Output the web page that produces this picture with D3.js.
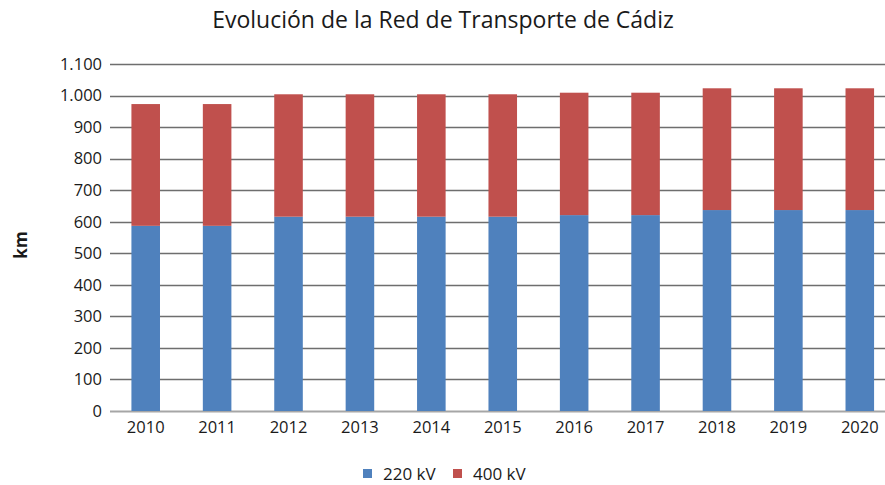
<!DOCTYPE html>
<html>
<head>
<meta charset="utf-8">
<script src="https://cdn.jsdelivr.net/npm/d3@7"></script>
<style>
  body { margin: 0; background: #fff; }
  text { font-family: "Open Sans", "Liberation Sans", sans-serif; fill: #1a1a1a; }
</style>
</head>
<body>
<div id="chart"></div>
<script>
var years = ["2010", "2011", "2012", "2013", "2014", "2015", "2016", "2017", "2018", "2019", "2020"];
var kv220 = [587, 587, 616, 616, 616, 616, 621, 621, 637, 637, 637];
var kv400 = [386, 386, 388, 388, 388, 388, 388, 388, 386, 386, 386];
var seriesNames = ["220 kV", "400 kV"];
var seriesColors = ["#4F81BD", "#C0504D"];
var yTicks = [0, 100, 200, 300, 400, 500, 600, 700, 800, 900, 1000, 1100];

var width = 885, height = 485;

var svg = d3.select("#chart")
            .append("svg")
            .attr("width", width)
            .attr("height", height)

var rows = years.map(function(y, i) {
    return { year: y, "220 kV": kv220[i], "400 kV": kv400[i] };
});

var stacked = d3.stack().keys(seriesNames)(rows);

var x = d3.scaleBand()
    .domain(years)
    .range([110, 895.5])
    .paddingInner(0.6)
    .paddingOuter(0.3);

var y = d3.scaleLinear()
    .domain([0, 1100])
    .range([411, 64]);

var fmt = d3.formatLocale({ decimal: ",", thousands: ".", grouping: [3], currency: ["", "€"] }).format(",d");

// gridlines
svg.append("g")
    .selectAll("line")
    .data(yTicks)
    .enter()
    .append("line")
    .attr("x1", 110)
    .attr("x2", width)
    .attr("y1", function(d) { return Math.round(y(d)) + 0.5; })
    .attr("y2", function(d) { return Math.round(y(d)) + 0.5; })
    .style("stroke", function(d) { return d === 0 ? "#a6a6a6" : "#6e6e6e"; })
    .style("stroke-width", function(d) { return d === 0 ? 2 : 1.5; });

// bars
svg.append("g")
    .selectAll("g")
    .data(stacked)
    .enter()
    .append("g")
    .style("fill", function(d, i) { return seriesColors[i]; })
    .selectAll("rect")
    .data(function(d) { return d; })
    .enter()
    .append("rect")
    .attr("x", function(d) { return x(d.data.year); })
    .attr("width", x.bandwidth())
    .attr("y", function(d) { return y(d[1]); })
    .attr("height", function(d) { return y(d[0]) - y(d[1]); });

// y axis labels
svg.append("g")
    .selectAll("text")
    .data(yTicks)
    .enter()
    .append("text")
    .attr("x", 102)
    .attr("y", function(d) { return y(d); })
    .attr("dy", "0.35em")
    .attr("text-anchor", "end")
    .style("font-size", "16.5px")
    .text(function(d) { return fmt(d); });

// x axis labels
svg.append("g")
    .selectAll("text")
    .data(years)
    .enter()
    .append("text")
    .attr("x", function(d) { return x(d) + x.bandwidth() / 2; })
    .attr("y", 433)
    .attr("text-anchor", "middle")
    .style("font-size", "16.5px")
    .text(function(d) { return d; });

// title
svg.append("text")
    .attr("x", 443)
    .attr("y", 28)
    .attr("text-anchor", "middle")
    .style("font-size", "23px")
    .text("Evolución de la Red de Transporte de Cádiz");

// y label
svg.append("text")
    .attr("transform", "translate(27,245) rotate(-90)")
    .attr("text-anchor", "middle")
    .style("font-size", "17px")
    .style("font-weight", "bold")
    .text("km");

// legend
var legend = svg.append("g")
    .selectAll("g")
    .data(seriesNames)
    .enter()
    .append("g")
    .attr("transform", function(d, i) { return "translate(" + (363 + i * 90) + ",469)"; });

legend.append("rect")
    .attr("width", 9)
    .attr("height", 9)
    .style("fill", function(d, i) { return seriesColors[i]; });

legend.append("text")
    .attr("x", 20)
    .attr("y", 5)
    .attr("dy", "0.35em")
    .style("font-size", "17px")
    .text(function(d) { return d; });
</script>
</body>
</html>
